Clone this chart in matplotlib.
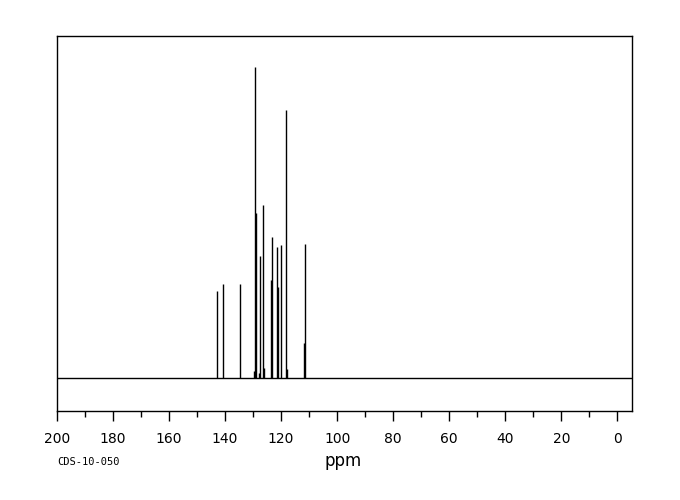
import matplotlib
matplotlib.use("Agg")
import matplotlib.pyplot as plt

# peak positions (ppm) and relative heights (largest = 100)
SHIFTS = [142.86, 140.71, 134.64, 129.64, 129.29, 128.93, 127.86, 127.50,
          126.43, 126.07, 123.68, 123.21, 121.43, 121.07, 120.00, 118.21,
          117.86, 111.79, 111.43]
HEIGHTS = [28.1, 30.3, 30.3, 2.4, 100.0, 53.0, 1.6, 39.2,
           55.6, 3.2, 31.4, 45.3, 42.2, 29.4, 42.7, 86.0,
           2.9, 11.4, 43.0]
MAJOR_TICKS = [200, 180, 160, 140, 120, 100, 80, 60, 40, 20, 0]
MINOR_TICKS = [190, 170, 150, 130, 110, 90, 70, 50, 30, 10]
CODE = "CDS-10-050"


def main():
    fig = plt.figure(figsize=(6.8, 5.0), dpi=100)
    ax = fig.add_axes([0.0838, 0.178, 0.845, 0.75])

    ax.axhline(0, color="black", lw=1.0, zorder=1)
    ax.vlines(SHIFTS, 0, HEIGHTS, color="black", lw=1.0, zorder=2)

    ax.set_xlim(200, -5.1)
    ax.set_ylim(-10.5, 109.9)
    ax.set_yticks([])
    ax.set_xticks(MAJOR_TICKS)
    ax.set_xticklabels([str(t) for t in MAJOR_TICKS])
    ax.set_xticks(MINOR_TICKS, minor=True)
    ax.tick_params(axis="x", which="major", direction="out", length=7,
                   width=1, labelsize=10, pad=8)
    ax.tick_params(axis="x", which="minor", direction="out", length=4,
                   width=1)
    for s in ax.spines.values():
        s.set_linewidth(1.0)

    fig.text(0.505, 0.077, "ppm", ha="center", va="center", fontsize=12)
    fig.text(0.0835, 0.076, CODE, ha="left", va="center", fontsize=7.5,
             family="DejaVu Sans Mono")

    fig.savefig("out.png", dpi=100)


if __name__ == "__main__":
    main()
